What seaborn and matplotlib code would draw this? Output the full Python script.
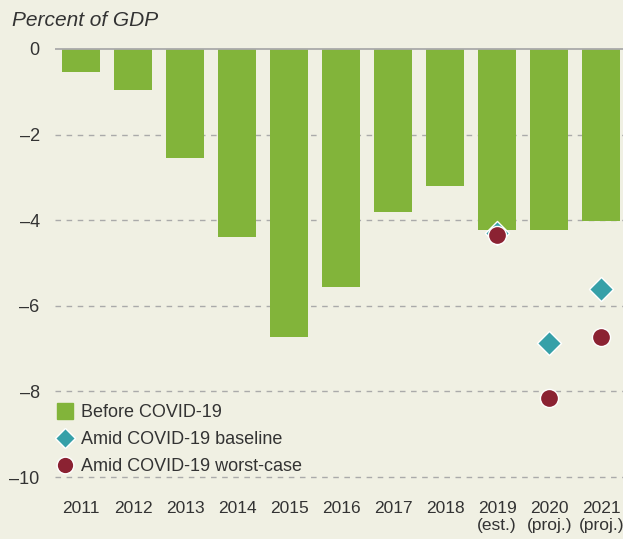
import matplotlib
matplotlib.use("Agg")
import matplotlib.pyplot as plt
from matplotlib.lines import Line2D
import seaborn as sns
import pandas as pd

# data
years = ["2011", "2012", "2013", "2014", "2015", "2016", "2017", "2018", "2019", "2020", "2021"]
year_labels = ["2011", "2012", "2013", "2014", "2015", "2016", "2017", "2018",
               "2019\n(est.)", "2020\n(proj.)", "2021\n(proj.)"]
before_covid = [-0.54, -0.95, -2.55, -4.39, -6.73, -5.56, -3.81, -3.2, -4.23, -4.23, -4.02]
covid_years = ["2019", "2020", "2021"]
baseline = [-4.3, -6.87, -5.6]
worst_case = [-4.35, -8.15, -6.73]
y_ticks = [0, -2, -4, -6, -8, -10]
y_tick_labels = ["0", "\u20132", "\u20134", "\u20136", "\u20138", "\u201310"]

BG = "#f0f0e3"
GREEN = "#82b43a"
TEAL = "#36a0a8"
MAROON = "#8b2232"
TEXT = "#333333"

sns.set_style("white")
plt.rcParams["font.family"] = ["Liberation Sans Narrow", "Liberation Sans", "DejaVu Sans"]

fig = plt.figure(figsize=(6.23, 5.39), dpi=100, facecolor=BG)
ax = fig.add_axes([0.0883, 0.0991, 0.9117, 0.8418], facecolor=BG)

df = pd.DataFrame({"year": years, "value": before_covid})
sns.barplot(data=df, x="year", y="value", color=GREEN, width=0.73,
            saturation=1, order=years, linewidth=0, ax=ax, zorder=2)

pts = pd.DataFrame({
    "pos": [years.index(y) for y in covid_years],
    "baseline": baseline,
    "worst": worst_case,
})
sns.scatterplot(data=pts, x="pos", y="baseline", marker="D", s=150, color=TEAL,
                edgecolor="white", linewidth=1, ax=ax, zorder=4)
sns.scatterplot(data=pts, x="pos", y="worst", marker="o", s=170, color=MAROON,
                edgecolor="white", linewidth=1, ax=ax, zorder=5)

for t in y_ticks[1:]:
    ax.axhline(t, color="#aaaaaa", lw=1, ls=(0, (4, 4)), zorder=1)
ax.axhline(0, color="#aaaaaa", lw=1.3, zorder=3)

ax.set_xlim(-0.5, 10.42)
ax.set_ylim(-10.2, 0.4)
ax.set_yticks(y_ticks)
ax.set_yticklabels(y_tick_labels, fontsize=13, color=TEXT)
ax.set_xticks(range(len(years)))
ax.set_xticklabels(year_labels, fontsize=12.5, color=TEXT, linespacing=1.15)
ax.tick_params(axis="both", length=0)
ax.tick_params(axis="y", pad=11)
ax.tick_params(axis="x", pad=11)
ax.set_xlabel("")
ax.set_ylabel("")
for s in ax.spines.values():
    s.set_visible(False)

fig.text(0.019, 0.962, "Percent of GDP", fontsize=15, style="italic",
         color=TEXT, va="center", ha="left")

handles = [
    Line2D([], [], marker="s", ls="", color=GREEN, markersize=11),
    Line2D([], [], marker="D", ls="", color=TEAL, markeredgecolor="white", markersize=10),
    Line2D([], [], marker="o", ls="", color=MAROON, markeredgecolor="white", markersize=12),
]
labels = ["Before COVID-19", "Amid COVID-19 baseline", "Amid COVID-19 worst-case"]
leg = ax.legend(handles, labels, loc="upper left", bbox_to_anchor=(-0.015, 0.195),
                frameon=False, fontsize=13, handletextpad=0.3, labelspacing=0.55,
                handlelength=1.2, borderaxespad=0)
for t in leg.get_texts():
    t.set_color(TEXT)

fig.savefig("out.png", dpi=100, facecolor=BG)
